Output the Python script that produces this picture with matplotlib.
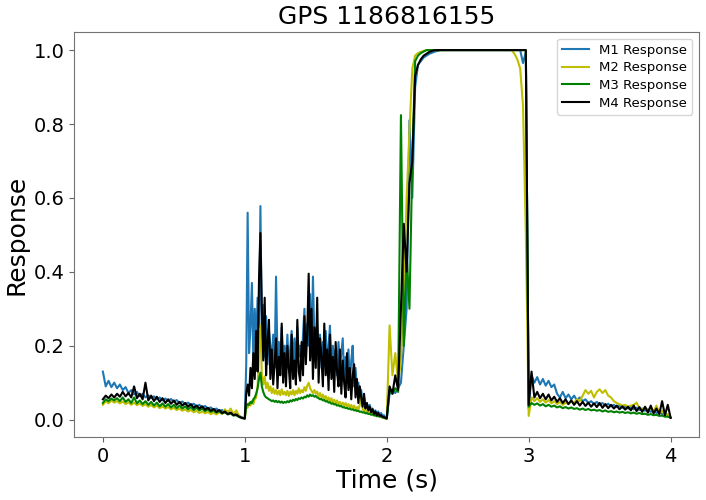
import numpy as np
import matplotlib
matplotlib.use('Agg')
import matplotlib.pyplot as plt

# time grid: 0.02 s steps, but 0.01 s in the noisy 1-2 s stretch
t = np.concatenate([np.arange(50) * 0.02,
                    1.0 + np.arange(100) * 0.01,
                    2.0 + np.arange(101) * 0.02])

# M1 response in four one-second chunks
m1_a = [0.130, 0.090, 0.105, 0.088, 0.100, 0.085, 0.095, 0.080, 0.088, 0.072,
        0.080, 0.068, 0.075, 0.063, 0.070, 0.060, 0.066, 0.058, 0.063, 0.055,
        0.060, 0.052, 0.057, 0.050, 0.056, 0.048, 0.053, 0.045, 0.049, 0.042,
        0.046, 0.039, 0.043, 0.036, 0.040, 0.033, 0.037, 0.030, 0.033, 0.027,
        0.030, 0.023, 0.026, 0.019, 0.022, 0.016, 0.018, 0.012, 0.010, 0.006]
m1_b = [0.003, 0.150, 0.560, 0.180, 0.250, 0.370, 0.160, 0.300, 0.200, 0.330,
        0.250, 0.578, 0.220, 0.310, 0.170, 0.280, 0.150, 0.240, 0.200, 0.160,
        0.230, 0.140, 0.387, 0.170, 0.210, 0.130, 0.250, 0.160, 0.200, 0.150,
        0.230, 0.140, 0.190, 0.240, 0.150, 0.220, 0.130, 0.250, 0.170, 0.200,
        0.150, 0.230, 0.300, 0.180, 0.260, 0.200, 0.340, 0.170, 0.387, 0.220,
        0.180, 0.250, 0.160, 0.230, 0.140, 0.210, 0.170, 0.240, 0.150, 0.200,
        0.254, 0.130, 0.200, 0.150, 0.190, 0.120, 0.210, 0.140, 0.180, 0.220,
        0.110, 0.170, 0.130, 0.190, 0.100, 0.160, 0.200, 0.090, 0.140, 0.080,
        0.100, 0.060, 0.080, 0.045, 0.060, 0.035, 0.045, 0.030, 0.040, 0.025,
        0.030, 0.020, 0.025, 0.015, 0.022, 0.012, 0.018, 0.010, 0.012, 0.006]
m1_c = [0.003, 0.070, 0.080, 0.072, 0.085, 0.100, 0.200, 0.300, 0.810, 0.600,
        0.900, 0.960, 0.970, 0.980, 0.985, 0.990, 0.993, 0.996, 0.998, 1.0,
        1.0, 1.0, 1.0, 1.0, 1.0, 1.0, 1.0, 1.0, 1.0, 1.0,
        1.0, 1.0, 1.0, 1.0, 1.0, 1.0, 1.0, 1.0, 1.0, 1.0,
        1.0, 1.0, 1.0, 1.0, 1.0, 1.0, 1.0, 1.0, 0.965, 0.995]
m1_d = [0.030, 0.120, 0.100, 0.115, 0.095, 0.110, 0.092, 0.105, 0.088, 0.095,
        0.070, 0.060, 0.075, 0.058, 0.068, 0.055, 0.065, 0.052, 0.060, 0.050,
        0.055, 0.045, 0.050, 0.042, 0.048, 0.040, 0.045, 0.038, 0.043, 0.036,
        0.040, 0.034, 0.038, 0.032, 0.036, 0.030, 0.034, 0.028, 0.032, 0.026,
        0.030, 0.024, 0.028, 0.021, 0.025, 0.018, 0.022, 0.015, 0.018, 0.012,
        0.006]

# M2 response
m2_a = [0.040, 0.050, 0.044, 0.052, 0.046, 0.050, 0.044, 0.049, 0.042, 0.047,
        0.040, 0.046, 0.039, 0.044, 0.037, 0.042, 0.035, 0.040, 0.033, 0.038,
        0.031, 0.036, 0.030, 0.034, 0.028, 0.032, 0.026, 0.030, 0.024, 0.028,
        0.022, 0.026, 0.020, 0.024, 0.018, 0.022, 0.017, 0.021, 0.015, 0.019,
        0.014, 0.020, 0.015, 0.028, 0.018, 0.030, 0.015, 0.025, 0.010, 0.005]
m2_b = [0.003, 0.040, 0.032, 0.045, 0.038, 0.050, 0.042, 0.055, 0.060, 0.090,
        0.180, 0.255, 0.120, 0.095, 0.117, 0.085, 0.100, 0.078, 0.090, 0.072,
        0.085, 0.070, 0.080, 0.068, 0.078, 0.066, 0.082, 0.068, 0.075, 0.066,
        0.078, 0.064, 0.076, 0.068, 0.080, 0.066, 0.078, 0.070, 0.085, 0.072,
        0.080, 0.074, 0.088, 0.078, 0.092, 0.100, 0.085, 0.078, 0.072, 0.080,
        0.070, 0.076, 0.062, 0.072, 0.060, 0.068, 0.055, 0.064, 0.052, 0.060,
        0.048, 0.058, 0.046, 0.054, 0.044, 0.052, 0.042, 0.048, 0.040, 0.046,
        0.038, 0.045, 0.035, 0.042, 0.033, 0.040, 0.030, 0.038, 0.028, 0.034,
        0.026, 0.040, 0.065, 0.030, 0.022, 0.028, 0.020, 0.024, 0.016, 0.020,
        0.014, 0.016, 0.011, 0.013, 0.009, 0.010, 0.007, 0.006, 0.004, 0.003]
m2_c = [0.003, 0.255, 0.120, 0.180, 0.100, 0.160, 0.350, 0.600, 0.780, 0.950,
        0.985, 0.992, 0.995, 0.998, 1.0, 1.0, 1.0, 1.0, 1.0, 1.0,
        1.0, 1.0, 1.0, 1.0, 1.0, 1.0, 1.0, 1.0, 1.0, 1.0,
        1.0, 1.0, 1.0, 1.0, 1.0, 1.0, 1.0, 1.0, 1.0, 1.0,
        1.0, 1.0, 1.0, 1.0, 1.0, 0.990, 0.975, 0.950, 0.850, 0.500]
m2_d = [0.010, 0.060, 0.050, 0.058, 0.048, 0.055, 0.046, 0.053, 0.044, 0.050,
        0.042, 0.048, 0.040, 0.046, 0.042, 0.050, 0.045, 0.055, 0.050, 0.065,
        0.080, 0.070, 0.078, 0.060, 0.075, 0.082, 0.072, 0.080, 0.065, 0.060,
        0.050, 0.045, 0.042, 0.038, 0.040, 0.035, 0.038, 0.040, 0.046, 0.030,
        0.028, 0.032, 0.025, 0.030, 0.022, 0.038, 0.018, 0.024, 0.012, 0.015,
        0.005]

# M3 response
m3_a = [0.045, 0.055, 0.050, 0.057, 0.052, 0.058, 0.050, 0.060, 0.048, 0.055,
        0.045, 0.060, 0.044, 0.052, 0.042, 0.050, 0.040, 0.048, 0.038, 0.046,
        0.036, 0.044, 0.035, 0.042, 0.033, 0.040, 0.031, 0.038, 0.030, 0.036,
        0.028, 0.034, 0.026, 0.032, 0.025, 0.030, 0.023, 0.028, 0.021, 0.025,
        0.019, 0.023, 0.017, 0.020, 0.014, 0.017, 0.011, 0.012, 0.007, 0.004]
m3_b = [0.003, 0.038, 0.042, 0.040, 0.048, 0.045, 0.055, 0.060, 0.070, 0.085,
        0.110, 0.127, 0.090, 0.075, 0.065, 0.060, 0.058, 0.055, 0.053, 0.050,
        0.052, 0.048, 0.051, 0.047, 0.050, 0.046, 0.049, 0.045, 0.048, 0.046,
        0.050, 0.047, 0.052, 0.049, 0.054, 0.051, 0.056, 0.053, 0.058, 0.056,
        0.060, 0.057, 0.062, 0.060, 0.066, 0.062, 0.068, 0.064, 0.066, 0.062,
        0.064, 0.060, 0.058, 0.055, 0.056, 0.052, 0.053, 0.049, 0.050, 0.046,
        0.047, 0.043, 0.044, 0.041, 0.042, 0.038, 0.039, 0.036, 0.037, 0.033,
        0.034, 0.031, 0.032, 0.029, 0.030, 0.027, 0.028, 0.025, 0.026, 0.023,
        0.024, 0.021, 0.022, 0.019, 0.020, 0.017, 0.018, 0.015, 0.016, 0.013,
        0.014, 0.011, 0.012, 0.009, 0.010, 0.008, 0.008, 0.006, 0.005, 0.004]
m3_c = [0.003, 0.080, 0.070, 0.085, 0.075, 0.824, 0.200, 0.450, 0.300, 0.700,
        0.970, 0.985, 0.992, 0.996, 1.0, 1.0, 1.0, 1.0, 1.0, 1.0,
        1.0, 1.0, 1.0, 1.0, 1.0, 1.0, 1.0, 1.0, 1.0, 1.0,
        1.0, 1.0, 1.0, 1.0, 1.0, 1.0, 1.0, 1.0, 1.0, 1.0,
        1.0, 1.0, 1.0, 1.0, 1.0, 1.0, 1.0, 1.0, 1.0, 1.0]
m3_d = [0.035, 0.045, 0.040, 0.044, 0.038, 0.042, 0.036, 0.040, 0.035, 0.038,
        0.033, 0.036, 0.031, 0.034, 0.030, 0.033, 0.029, 0.031, 0.027, 0.030,
        0.026, 0.029, 0.025, 0.027, 0.024, 0.026, 0.022, 0.025, 0.021, 0.023,
        0.020, 0.022, 0.019, 0.021, 0.018, 0.020, 0.017, 0.019, 0.016, 0.018,
        0.015, 0.016, 0.013, 0.015, 0.012, 0.013, 0.010, 0.011, 0.008, 0.008,
        0.005]

# M4 response
m4_a = [0.055, 0.065, 0.058, 0.068, 0.060, 0.070, 0.062, 0.075, 0.063, 0.072,
        0.060, 0.090, 0.058, 0.070, 0.055, 0.100, 0.052, 0.065, 0.050, 0.062,
        0.048, 0.058, 0.045, 0.055, 0.043, 0.052, 0.040, 0.048, 0.038, 0.045,
        0.035, 0.042, 0.032, 0.038, 0.030, 0.036, 0.027, 0.032, 0.024, 0.029,
        0.021, 0.026, 0.018, 0.022, 0.015, 0.019, 0.012, 0.014, 0.008, 0.005]
m4_b = [0.003, 0.070, 0.095, 0.065, 0.140, 0.085, 0.180, 0.110, 0.240, 0.130,
        0.380, 0.505, 0.300, 0.160, 0.330, 0.120, 0.210, 0.270, 0.110, 0.190,
        0.095, 0.150, 0.220, 0.085, 0.170, 0.120, 0.260, 0.100, 0.180, 0.090,
        0.200, 0.140, 0.085, 0.230, 0.110, 0.160, 0.095, 0.270, 0.130, 0.105,
        0.210, 0.120, 0.280, 0.150, 0.240, 0.395, 0.160, 0.300, 0.110, 0.250,
        0.140, 0.330, 0.100, 0.220, 0.170, 0.090, 0.260, 0.120, 0.190, 0.080,
        0.230, 0.110, 0.170, 0.075, 0.210, 0.130, 0.090, 0.190, 0.070, 0.160,
        0.100, 0.060, 0.180, 0.080, 0.140, 0.055, 0.120, 0.150, 0.060, 0.110,
        0.045, 0.090, 0.060, 0.035, 0.070, 0.030, 0.045, 0.025, 0.035, 0.020,
        0.028, 0.015, 0.022, 0.012, 0.018, 0.010, 0.012, 0.008, 0.007, 0.005]
m4_c = [0.003, 0.090, 0.070, 0.120, 0.080, 0.300, 0.530, 0.400, 0.640, 0.700,
        0.930, 0.960, 0.975, 0.985, 0.990, 0.995, 0.998, 1.0, 1.0, 1.0,
        1.0, 1.0, 1.0, 1.0, 1.0, 1.0, 1.0, 1.0, 1.0, 1.0,
        1.0, 1.0, 1.0, 1.0, 1.0, 1.0, 1.0, 1.0, 1.0, 1.0,
        1.0, 1.0, 1.0, 1.0, 1.0, 1.0, 1.0, 1.0, 1.0, 1.0]
m4_d = [0.040, 0.130, 0.060, 0.075, 0.058, 0.070, 0.055, 0.068, 0.052, 0.062,
        0.048, 0.058, 0.045, 0.055, 0.042, 0.052, 0.040, 0.050, 0.038, 0.048,
        0.037, 0.046, 0.035, 0.044, 0.034, 0.045, 0.032, 0.042, 0.031, 0.040,
        0.030, 0.038, 0.028, 0.036, 0.027, 0.035, 0.025, 0.038, 0.023, 0.034,
        0.021, 0.035, 0.019, 0.038, 0.017, 0.030, 0.015, 0.050, 0.012, 0.040,
        0.005]

m1 = m1_a + m1_b + m1_c + m1_d
m2 = m2_a + m2_b + m2_c + m2_d
m3 = m3_a + m3_b + m3_c + m3_d
m4 = m4_a + m4_b + m4_c + m4_d

fig = plt.figure(figsize=(7.06, 5), dpi=100)
ax = fig.add_axes([0.1055, 0.126, 0.8846, 0.81])

ax.plot(t, m1, color='#1f77b4', label='M1 Response')
ax.plot(t, m2, color='y', label='M2 Response')
ax.plot(t, m3, color='g', label='M3 Response')
ax.plot(t, m4, color='k', label='M4 Response')

ax.set_xlim(-0.2, 4.2)
ax.set_ylim(-0.047, 1.049)
ax.set_xticks([0, 1, 2, 3, 4])
ax.set_yticks([0.0, 0.2, 0.4, 0.6, 0.8, 1.0])
ax.set_title('GPS 1186816155', fontsize=18)
ax.set_xlabel('Time (s)', fontsize=18, labelpad=2)
ax.set_ylabel('Response', fontsize=18)
ax.tick_params(labelsize=14, color='0.4')
for s in ax.spines.values():
    s.set_edgecolor('0.45')
ax.legend(loc='upper right', fontsize=9.5, labelspacing=0.35)

fig.savefig('out.png', dpi=100)
